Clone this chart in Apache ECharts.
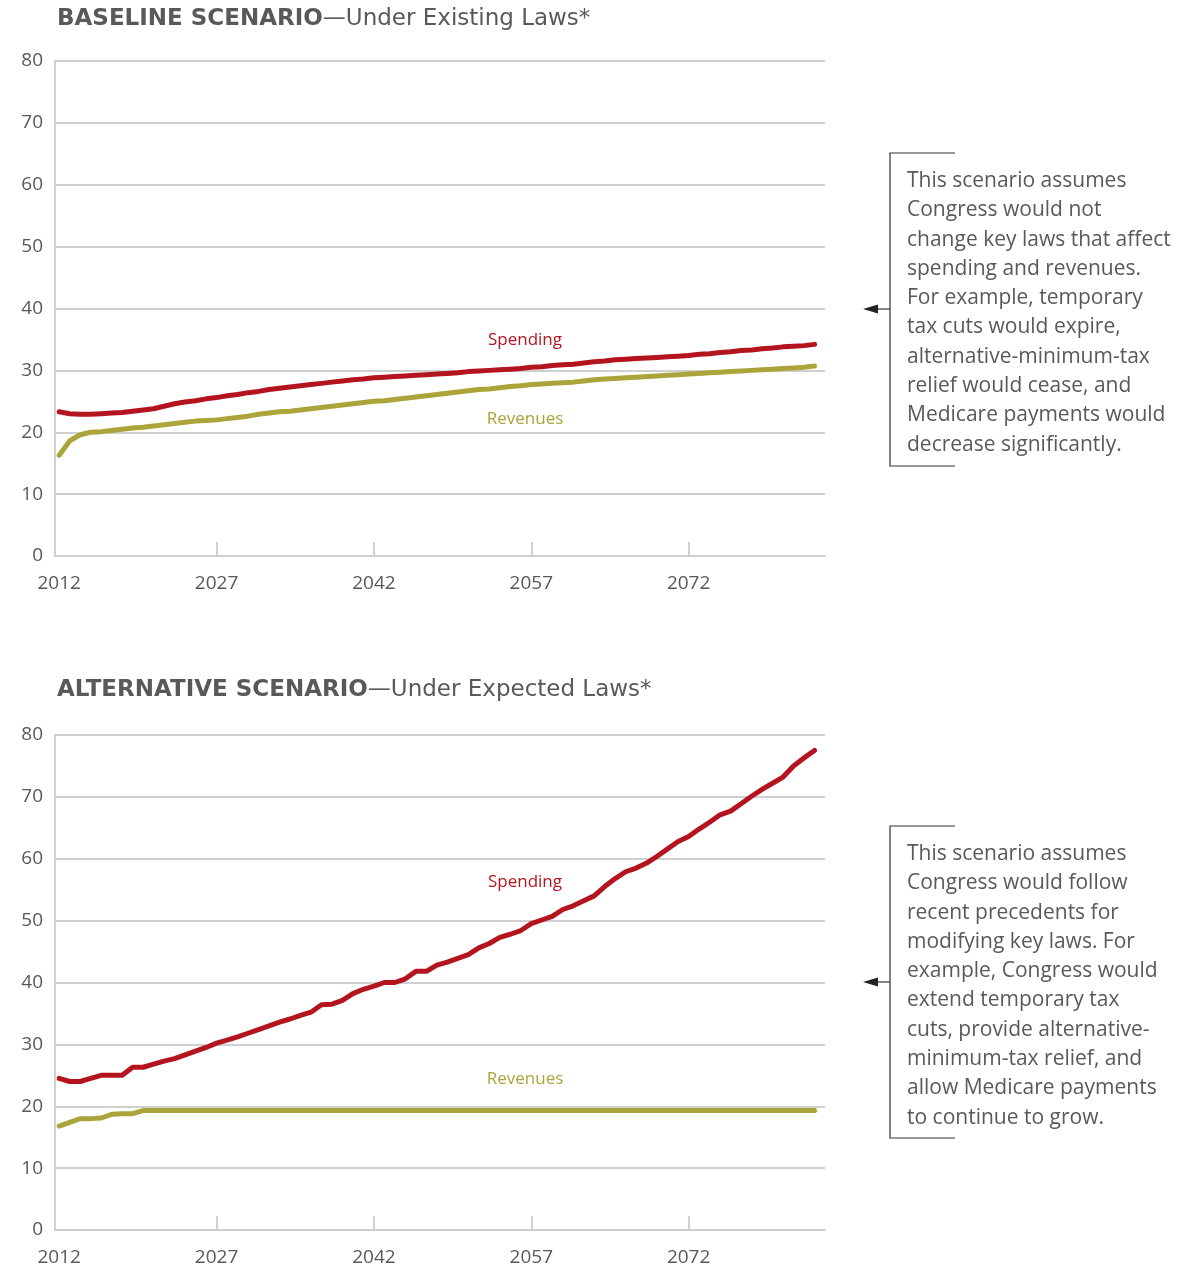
<!DOCTYPE html>
<html>
<head>
<meta charset="utf-8">
<script src="https://cdn.jsdelivr.net/npm/echarts@6/dist/echarts.min.js"></script>
<style>
html,body{margin:0;padding:0;background:#fff;}
#chart{width:1191px;height:1270px;}
</style>
</head>
<body>
<div id="chart"></div>
<script>
var startYear = 2012;
var xTickLabels = [2012, 2027, 2042, 2057, 2072];
var xTickMarks = [2027, 2042, 2057, 2072];

var baselineSpending = [23.3,23.0,22.9,22.9,23.0,23.1,23.2,23.4,23.6,23.8,24.2,24.6,24.9,25.1,25.4,25.6,25.9,26.1,26.4,26.6,26.9,27.1,27.3,27.5,27.7,27.9,28.1,28.3,28.5,28.6,28.8,28.9,29.0,29.1,29.2,29.3,29.4,29.5,29.6,29.8,29.9,30.0,30.1,30.2,30.3,30.5,30.6,30.8,30.9,31.0,31.2,31.4,31.5,31.7,31.8,31.9,32.0,32.1,32.2,32.3,32.4,32.6,32.7,32.9,33.0,33.2,33.3,33.5,33.6,33.8,33.9,34.0,34.2];
var baselineRevenues = [16.3,18.6,19.6,20.0,20.1,20.3,20.5,20.7,20.8,21.0,21.2,21.4,21.6,21.8,21.9,22.0,22.2,22.4,22.6,22.9,23.1,23.3,23.4,23.6,23.8,24.0,24.2,24.4,24.6,24.8,25.0,25.1,25.3,25.5,25.7,25.9,26.1,26.3,26.5,26.7,26.9,27.0,27.2,27.4,27.5,27.7,27.8,27.9,28.0,28.1,28.3,28.5,28.6,28.7,28.8,28.9,29.0,29.1,29.2,29.3,29.4,29.5,29.6,29.7,29.8,29.9,30.0,30.1,30.2,30.3,30.4,30.5,30.7];
var altSpending = [24.5,24.0,24.0,24.5,25.0,25.0,25.0,26.3,26.3,26.8,27.3,27.7,28.3,28.9,29.5,30.2,30.7,31.2,31.8,32.4,33.0,33.6,34.1,34.7,35.2,36.4,36.5,37.1,38.2,38.9,39.4,40.0,40.0,40.6,41.8,41.8,42.8,43.3,43.9,44.5,45.6,46.3,47.3,47.8,48.4,49.5,50.1,50.7,51.8,52.4,53.2,54.0,55.5,56.8,57.9,58.5,59.3,60.4,61.6,62.8,63.6,64.8,65.9,67.1,67.7,68.9,70.1,71.2,72.2,73.2,75.0,76.3,77.5];
var altRevenues = [16.8,17.4,18.0,18.0,18.1,18.7,18.8,18.8,19.3,19.3,19.3,19.3,19.3,19.3,19.3,19.3,19.3,19.3,19.3,19.3,19.3,19.3,19.3,19.3,19.3,19.3,19.3,19.3,19.3,19.3,19.3,19.3,19.3,19.3,19.3,19.3,19.3,19.3,19.3,19.3,19.3,19.3,19.3,19.3,19.3,19.3,19.3,19.3,19.3,19.3,19.3,19.3,19.3,19.3,19.3,19.3,19.3,19.3,19.3,19.3,19.3,19.3,19.3,19.3,19.3,19.3,19.3,19.3,19.3,19.3,19.3,19.3,19.3];

var baselineNote = ["This scenario assumes","Congress would not","change key laws that affect","spending and revenues.","For example, temporary","tax cuts would expire,","alternative-minimum-tax","relief would cease, and","Medicare payments would","decrease significantly."];
var altNote = ["This scenario assumes","Congress would follow","recent precedents for","modifying key laws. For","example, Congress would","extend temporary tax","cuts, provide alternative-","minimum-tax relief, and","allow Medicare payments","to continue to grow."];

var RED = '#b3141e';
var OLIVE = '#aba43a';
var GRAY = '#58595b';
var TGRAY = '#58595b';
var GRID = '#d0d0d0';
var FONT = '"Open Sans", "Noto Sans", sans-serif';
var TFONT = '"DejaVu Sans", "Open Sans", sans-serif';

function pairs(arr){ return arr.map(function(v,i){ return [startYear+i, v]; }); }

function xAxisDef(idx){
  return {
    type:'value', gridIndex: idx, min: 2011.6, max: 2085,
    axisLine:{show:true, lineStyle:{color:GRID, width:2}},
    axisTick:{show:true, inside:true, length:14, customValues: xTickMarks, lineStyle:{color:GRID, width:2}},
    axisLabel:{customValues: xTickLabels, color:GRAY, fontSize:19, fontFamily:FONT, margin:18,
      formatter:function(v){ return String(v); }},
    splitLine:{show:false}
  };
}
function yAxisDef(idx){
  return {
    type:'value', gridIndex: idx, min:0, max:80, interval:10,
    axisLine:{show:true, lineStyle:{color:GRID, width:2}},
    axisTick:{show:false},
    axisLabel:{color:GRAY, fontSize:19, fontFamily:FONT, margin:12},
    splitLine:{show:true, lineStyle:{color:GRID, width:2}}
  };
}
function lineSeries(idx, data, color, name){
  return {
    type:'line', name:name, xAxisIndex: idx, yAxisIndex: idx,
    data: pairs(data), showSymbol:false, symbol:'none', animation:false,
    lineStyle:{color:color, width:5, cap:'round', join:'round'}
  };
}

function noteGraphics(lines, top, bottom, arrowY){
  var g = [];
  g.push({type:'polyline', shape:{points:[[955,top],[890,top],[890,bottom],[955,bottom]]}, style:{stroke:'#333', lineWidth:1.2, fill:null}});
  g.push({type:'line', shape:{x1:890,y1:arrowY,x2:874,y2:arrowY}, style:{stroke:'#333', lineWidth:1.2}});
  g.push({type:'polygon', shape:{points:[[863,arrowY],[878,arrowY-4.5],[878,arrowY+4.5]]}, style:{fill:'#222'}});
  lines.forEach(function(t,i){
    g.push({type:'text', x:907, y: top+28+i*29.3, style:{text:t, fill:GRAY, font:'21px '+FONT, textVerticalAlign:'middle', textAlign:'left'}});
  });
  return g;
}

function titleGraphic(bold, rest, y){
  return {type:'text', x:57, y:y, style:{
    fill:TGRAY,
    rich:{
      b:{fontWeight:'bold', fontSize:23, fontFamily:TFONT, fill:TGRAY},
      n:{fontSize:23, fontFamily:TFONT, fill:TGRAY}
    },
    text:'{b|'+bold+'}{n|'+rest+'}', textVerticalAlign:'middle'}};
}

var graphics = [
  titleGraphic('BASELINE SCENARIO', '—Under Existing Laws*', 19),
  titleGraphic('ALTERNATIVE SCENARIO', '—Under Expected Laws*', 690),
  {type:'text', x:525, y:340, style:{text:'Spending', fill:RED, font:'17px '+FONT, textAlign:'center', textVerticalAlign:'middle'}},
  {type:'text', x:525, y:419, style:{text:'Revenues', fill:OLIVE, font:'17px '+FONT, textAlign:'center', textVerticalAlign:'middle'}},
  {type:'text', x:525, y:882, style:{text:'Spending', fill:RED, font:'17px '+FONT, textAlign:'center', textVerticalAlign:'middle'}},
  {type:'text', x:525, y:1079, style:{text:'Revenues', fill:OLIVE, font:'17px '+FONT, textAlign:'center', textVerticalAlign:'middle'}}
].concat(noteGraphics(baselineNote, 153, 466, 309)).concat(noteGraphics(altNote, 826, 1138, 982));

var chart = echarts.init(document.getElementById('chart'), null, {renderer:'canvas'});
chart.setOption({
  backgroundColor:'#fff',
  animation:false,
  grid:[
    {left:55, top:61, width:770, height:495},
    {left:55, top:735, width:770, height:495}
  ],
  xAxis:[xAxisDef(0), xAxisDef(1)],
  yAxis:[yAxisDef(0), yAxisDef(1)],
  series:[
    lineSeries(0, baselineRevenues, OLIVE, 'Revenues'),
    lineSeries(0, baselineSpending, RED, 'Spending'),
    lineSeries(1, altRevenues, OLIVE, 'Revenues'),
    lineSeries(1, altSpending, RED, 'Spending')
  ],
  graphic: graphics
});
</script>
</body>
</html>
